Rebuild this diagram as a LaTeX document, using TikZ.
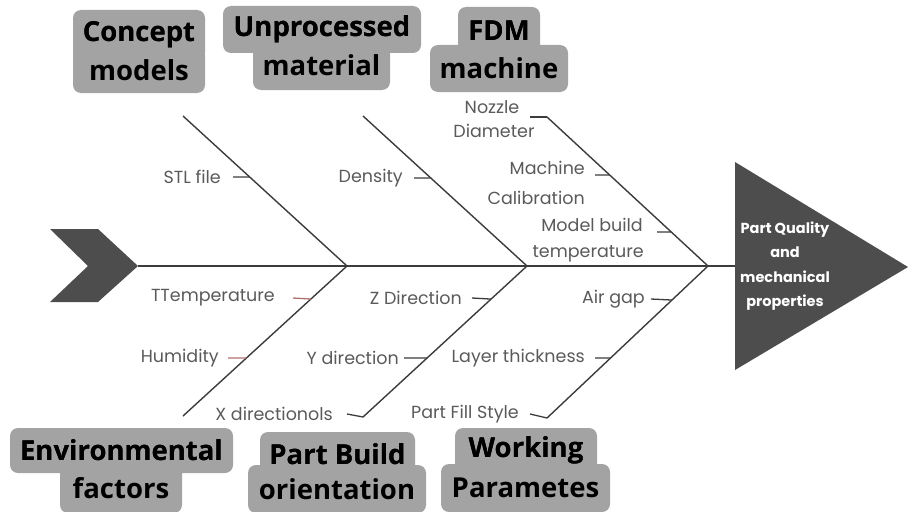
\documentclass[tikz,border=0pt]{standalone}
\usepackage{fontspec}
\usetikzlibrary{calc}
\newfontfamily\catfont{Open Sans}
\newfontfamily\lblfont{Poppins}
\definecolor{boxgray}{HTML}{A3A3A3}
\definecolor{darkfill}{HTML}{4D4D4D}
\definecolor{bonecol}{HTML}{3C3C3C}
\definecolor{lblcol}{HTML}{5A5A5A}
\definecolor{tickred}{HTML}{B07070}
\tikzset{
  catbox/.style={fill=boxgray, rounded corners=8pt, inner sep=0pt, text=black,
    font=\catfont\bfseries\fontsize{27.5}{30}\selectfont},
  lbl/.style={inner sep=0pt, text=lblcol, font=\lblfont\fontsize{17.5}{20}\selectfont},
  bone/.style={draw=bonecol, line width=1.4pt},
  tickln/.style={draw=bonecol, line width=1.3pt},
  redtick/.style={draw=tickred, line width=1.3pt},
}
\begin{document}
\begin{tikzpicture}[x=1pt,y=-1pt]
\useasboundingbox (0,0) rectangle (909,511);
% head and tail
\fill[darkfill] (50,229) -- (98,229) -- (138,266) -- (98,302) -- (50,302) -- (88,266) -- cycle;
\fill[darkfill] (735,162) -- (908,267) -- (735,370) -- cycle;
\coordinate (tail) at (138,266);
\coordinate (head) at (735,266);
\node[inner sep=0pt, text=white, align=center, font=\lblfont\bfseries\fontsize{14.5}{24.5}\selectfont] (effect) at (785,266) {Part Quality\\and\\mechanical\\properties};
% junctions
\coordinate (j1) at (347,266);
\coordinate (j2) at (527,266);
\coordinate (j3) at (708,266);
\coordinate (u1a) at (183,116);
\coordinate (u2a) at (363,116);
\coordinate (u3a) at (547,117);
\coordinate (l1a) at (183,416);
\coordinate (l2a) at (363,417);
\coordinate (l3a) at (547,418);
\draw[bone] (tail) -- (head);
\draw[bone] (u1a) -- (j1);
\draw[bone] (u2a) -- (j2);
\draw[bone] (u3a) -- (j3);
\draw[bone] (l1a) -- (j1);
\draw[bone] (l2a) -- (j2);
\draw[bone] (l3a) -- (j3);
% category boxes
\node[catbox, minimum width=132pt, minimum height=50pt] (conceptA) at (139,35) {Concept};
\node[catbox, minimum width=132pt, minimum height=46pt] (conceptB) at (139,70) {models};
\node[catbox, minimum width=198pt, minimum height=47pt] (unprocA) at (322,29.5) {Unprocessed};
\node[catbox, minimum width=137pt, minimum height=50pt] (unprocB) at (321.5,65) {material};
\node[catbox, minimum width=82pt, minimum height=48pt] (fdmA) at (499,31) {FDM};
\node[catbox, minimum width=138pt, minimum height=47pt] (fdmB) at (499,68.5) {machine};
\node[catbox, minimum width=223pt, minimum height=45pt] (envA) at (121.5,450.5) {Environmental};
\node[catbox, minimum width=122pt, minimum height=50pt] (envB) at (121,488) {factors};
\node[catbox, minimum width=155pt, minimum height=44pt] (pbA) at (337.5,454) {Part Build};
\node[catbox, minimum width=178pt, minimum height=48pt] (pbB) at (337,489) {orientation};
\node[catbox, minimum width=142pt, minimum height=44pt] (wpA) at (526,450) {Working};
\node[catbox, minimum width=169pt, minimum height=48pt] (wpB) at (525.5,488) {Parametes};
% re-draw text on top of overlapping boxes
\node[catbox, fill=none] (conceptT) at (conceptA) {Concept};
\node[catbox, fill=none] (unprocT) at (unprocA) {Unprocessed};
\node[catbox, fill=none] (fdmT) at (fdmA) {FDM};
\node[catbox, fill=none] (envT) at (envA) {Environmental};
\node[catbox, fill=none] (pbT) at (pbA) {Part Build};
\node[catbox, fill=none] (wpT) at (wpA) {Working};
% upper labels
\node[lbl, anchor=east] (stl) at (221,177) {STL file};
\draw[tickln] ([xshift=12pt]stl.east) -- ($(u1a)!0.407!(j1)$);
\node[lbl, anchor=east] (dens) at (403,178) {Density};
\draw[tickln] ([xshift=11pt]dens.east) -- ($(u2a)!0.413!(j2)$);
\node[lbl] (nozzle) at (492,107) {Nozzle};
\node[lbl] (diam) at (494,131) {Diameter};
\coordinate (nztick) at (530,117);
\draw[tickln] (nztick) -- (u3a);
\node[lbl, anchor=east] (mach) at (585,168) {Machine};
\node[lbl, anchor=east] (calib) at (585,198) {Calibration};
\coordinate (mtick) at (595,175);
\draw[tickln] (mtick) -- ($(u3a)!0.389!(j3)$);
\node[lbl, anchor=east] (mbuild) at (643,225) {Model build};
\node[lbl, anchor=east] (mtemp) at (644,254) {temperature};
\coordinate (mbtick) at (657,232);
\draw[tickln] (mbtick) -- ($(u3a)!0.772!(j3)$);
% lower labels
\node[lbl, anchor=east] (ttemp) at (275,298) {TTemperature};
\draw[redtick] ([xshift=18pt]ttemp.east) -- ($(j1)!0.22!(l1a)$);
\node[lbl, anchor=east] (humid) at (219,358) {Humidity};
\draw[redtick] ([xshift=9pt]humid.east) -- ($(j1)!0.613!(l1a)$);
\node[lbl, anchor=east] (zdir) at (462,298) {Z Direction};
\draw[tickln] ([xshift=10pt]zdir.east) -- ($(j2)!0.219!(l2a)$);
\node[lbl, anchor=east] (ydir) at (399,358) {Y direction};
\draw[tickln] ([xshift=5pt]ydir.east) -- ($(j2)!0.609!(l2a)$);
\node[lbl, anchor=east] (xdir) at (333,414) {X directionols};
\draw[tickln] ([xshift=14pt]xdir.east) -- (l2a);
\node[lbl, anchor=east] (airgap) at (645,299) {Air gap};
\draw[tickln] ([xshift=6pt]airgap.east) -- ($(j3)!0.224!(l3a)$);
\node[lbl, anchor=east] (layer) at (585,358) {Layer thickness};
\draw[tickln] ([xshift=10pt]layer.east) -- ($(j3)!0.605!(l3a)$);
\node[lbl, anchor=east] (fill) at (519,414) {Part Fill Style};
\draw[tickln] ([xshift=11pt]fill.east) -- (l3a);
\end{tikzpicture}
\end{document}
